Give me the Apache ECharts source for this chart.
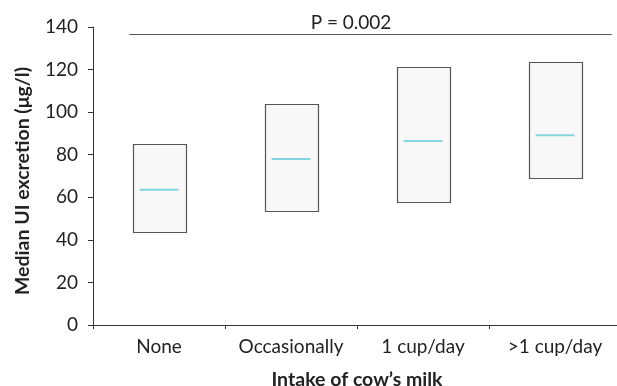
<!DOCTYPE html>
<html>
<head>
<meta charset="utf-8">
<script src="https://cdn.jsdelivr.net/npm/echarts@6/dist/echarts.min.js"></script>
<style>html,body{margin:0;padding:0;background:#fff}#c{width:617px;height:386px}</style>
</head>
<body>
<div id="c"></div>
<script>
const categories = ['None', 'Occasionally', '1 cup/day', '>1 cup/day'];
const lowerValues = [43.5, 53.3, 57.5, 69];
const medianValues = [63.5, 78, 86.5, 89.2];
const upperValues = [85, 103.6, 121, 123.7];
const yTicks = [0, 20, 40, 60, 80, 100, 120, 140];
const pLineValue = 136.5;
const pText = 'P = 0.002';

const FONT = 'Lato, "Open Sans", sans-serif';
const boxData = categories.map((c, i) => [i, lowerValues[i], medianValues[i], upperValues[i]]);

const chart = echarts.init(document.getElementById('c'), null, {renderer: 'canvas'});
chart.setOption({
  animation: false,
  backgroundColor: '#fff',
  grid: {left: 93, right: -4, top: 27, bottom: 61, containLabel: false, outerBoundsMode: 'none'},
  xAxis: {
    type: 'category',
    data: categories,
    boundaryGap: true,
    name: 'Intake of cow\u2019s milk',
    nameLocation: 'middle',
    nameGap: 45,
    nameTextStyle: {fontFamily: FONT, fontSize: 19.5, fontWeight: 'bold', color: '#222'},
    axisLine: {lineStyle: {color: '#333', width: 1}},
    axisTick: {show: true, length: 4, lineStyle: {color: '#333'}},
    axisLabel: {fontFamily: FONT, fontSize: 19, color: '#222', margin: 12, interval: 0, hideOverlap: false},
    splitLine: {show: false}
  },
  yAxis: {
    type: 'value',
    min: yTicks[0],
    max: yTicks[yTicks.length - 1],
    interval: 20,
    name: 'Median UI excretion (\u03bcg/l)',
    nameLocation: 'middle',
    nameGap: 60,
    nameTextStyle: {fontFamily: FONT, fontSize: 19.5, fontWeight: 'bold', color: '#222', padding: [0, 10, 0, 0]},
    axisLine: {show: true, lineStyle: {color: '#333', width: 1}},
    axisTick: {show: true, length: 5, lineStyle: {color: '#333'}},
    axisLabel: {fontFamily: FONT, fontSize: 19, color: '#222', margin: 15},
    splitLine: {show: false}
  },
  graphic: [{
    type: 'text',
    x: 351, y: 23,
    style: {text: pText, fontFamily: FONT, fontSize: 19, fill: '#222', textAlign: 'center', textVerticalAlign: 'middle'}
  }],
  series: [{
    type: 'custom',
    data: boxData,
    renderItem: function (params, api) {
      const x = api.value(0);
      const lo = api.coord([x, api.value(1)]);
      const md = api.coord([x, api.value(2)]);
      const hi = api.coord([x, api.value(3)]);
      const band = api.size([1, 0])[0];
      const w = band * 0.40;
      const inset = band * 0.053;
      const cx = lo[0];
      return {
        type: 'group',
        children: [{
          type: 'rect',
          shape: {x: Math.round(cx - w / 2) + 0.5, y: Math.round(hi[1]) + 0.5, width: Math.round(w), height: Math.round(lo[1] - hi[1])},
          style: {fill: '#f8f8f8', stroke: '#555', lineWidth: 1.2}
        }, {
          type: 'line',
          shape: {x1: cx - w / 2 + inset, y1: md[1], x2: cx + w / 2 - inset, y2: md[1]},
          style: {stroke: '#86d3e2', lineWidth: 2}
        }]
      };
    }
  }, {
    type: 'custom',
    data: [[0, categories.length - 1, pLineValue]],
    renderItem: function (params, api) {
      const band = api.size([1, 0])[0];
      const a = api.coord([api.value(0), api.value(2)]);
      const b = api.coord([api.value(1), api.value(2)]);
      return {
        type: 'line',
        shape: {x1: a[0] - band * 0.225, y1: Math.round(a[1]) + 0.5, x2: b[0] + band * 0.43, y2: Math.round(a[1]) + 0.5},
        style: {stroke: '#555', lineWidth: 1}
      };
    }
  }]
});
</script>
</body>
</html>
